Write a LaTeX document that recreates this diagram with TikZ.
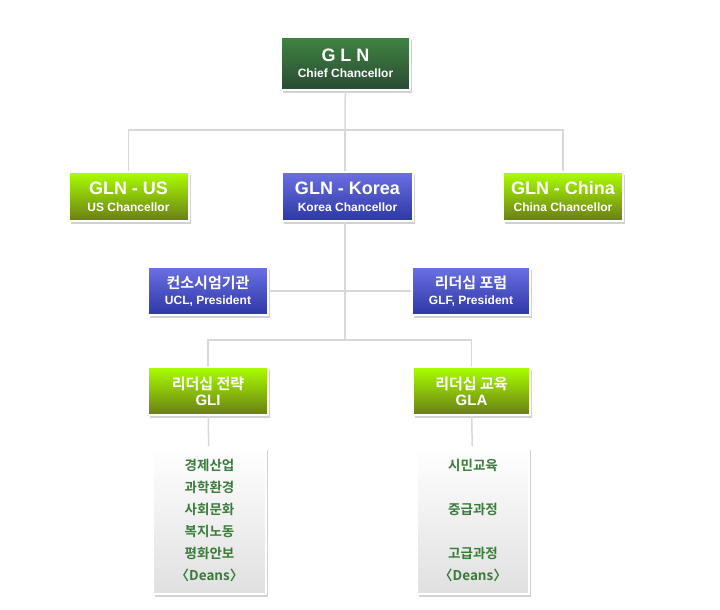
\documentclass[tikz,border=0pt]{standalone}
\usepackage{fontspec}
\usepackage{xcolor}
\usetikzlibrary{shadows}
\setmainfont{Liberation Sans}
\newfontfamily\kr{Noto Sans CJK KR}[BoldFont={Noto Sans CJK KR Bold}]
\definecolor{chieftop}{HTML}{3F8443}
\definecolor{chiefbot}{HTML}{2B4A33}
\definecolor{limetop}{HTML}{AAFF00}
\definecolor{limebot}{HTML}{6A7D16}
\definecolor{bluetop}{HTML}{6B70E3}
\definecolor{bluebot}{HTML}{2D37A5}
\definecolor{listbot}{HTML}{E0E0E0}
\definecolor{listtext}{HTML}{3B7B3B}
\definecolor{wire}{HTML}{D8D8D8}
\tikzstyle{box} = [rectangle, minimum width=120pt, minimum height=49pt, inner sep=0pt, text centered, align=center, draw=white, line width=2pt, text=white, font=\bfseries\fontsize{12}{13}\selectfont, drop shadow={shadow xshift=2pt, shadow yshift=-3pt, opacity=0.18, fill=black}]
\tikzstyle{chief} = [box, shading=axis, top color=chieftop, bottom color=chiefbot]
\tikzstyle{lime} = [box, shading=axis, top color=limetop, bottom color=limebot]
\tikzstyle{blue} = [box, shading=axis, top color=bluetop, bottom color=bluebot]
\tikzstyle{list} = [box, minimum width=113pt, minimum height=147pt, shading=axis, top color=white, bottom color=listbot, text=listtext, font=\kr\bfseries\fontsize{13.5}{22}\selectfont]
\tikzstyle{wire} = [draw=wire, line width=1.5pt]

\begin{document}
\begin{tikzpicture}[x=1pt, y=-1pt]
\useasboundingbox (0,0) rectangle (720,610);

% Nodes
\node (GLN) [chief, minimum width=129pt, minimum height=53pt] at (345.5,63.5) {{\fontsize{18}{20}\selectfont G L N}\\[3pt]Chief Chancellor}; % Top
\node (US) [lime] at (128.5,196.5) {{\fontsize{18}{20}\selectfont GLN - US}\\[4pt]US Chancellor}; % Left
\node (Korea) [blue, minimum width=131pt] at (347.5,196.5) {{\fontsize{18}{20}\selectfont GLN - Korea}\\[4pt]Korea Chancellor}; % Center
\node (China) [lime] at (563,196.5) {{\fontsize{18}{20}\selectfont GLN - China}\\[4pt]China Chancellor}; % Right
\node (UCL) [blue, minimum height=48pt] at (208,291) {{\kr\fontsize{15}{19}\selectfont 컨소시엄기관}\\[3pt]UCL, President};
\node (GLF) [blue, minimum width=118pt, minimum height=48pt] at (471,291) {{\kr\fontsize{15}{19}\selectfont 리더십 포럼}\\[3pt]GLF, President};
\node (GLI) [lime, minimum height=48pt] at (208,391) {{\kr\fontsize{15}{19}\selectfont 리더십 전략}\\[3pt]{\fontsize{15}{16}\selectfont GLI}};
\node (GLA) [lime, minimum width=117pt, minimum height=48pt] at (471.5,391) {{\kr\fontsize{15}{19}\selectfont 리더십 교육}\\[3pt]{\fontsize{15}{16}\selectfont GLA}};
\node (ListL) [list] at (209.5,520.5) {경제산업\\과학환경\\사회문화\\복지노동\\평화안보\\〈Deans〉};
\node (ListR) [list, minimum width=112pt] at (473,520.5) {시민교육\\[22pt]중급과정\\[22pt]고급과정\\〈Deans〉};
\coordinate (top) at (345,130);
\coordinate (mid) at (345,340);

% Connectors
\draw [wire] (GLN) -- (top);
\draw [wire] (US) |- (top) -| (China);
\draw [wire] (top) -- (top |- Korea.north);
\draw [wire] (Korea.south -| mid) -- (mid);
\draw [wire] (UCL) -- (GLF);
\draw [wire] (GLI) |- (mid) -| (GLA);
\draw [wire] (GLI) -- (ListL);
\draw [wire] (GLA) -- (ListR);

\end{tikzpicture}
\end{document}
